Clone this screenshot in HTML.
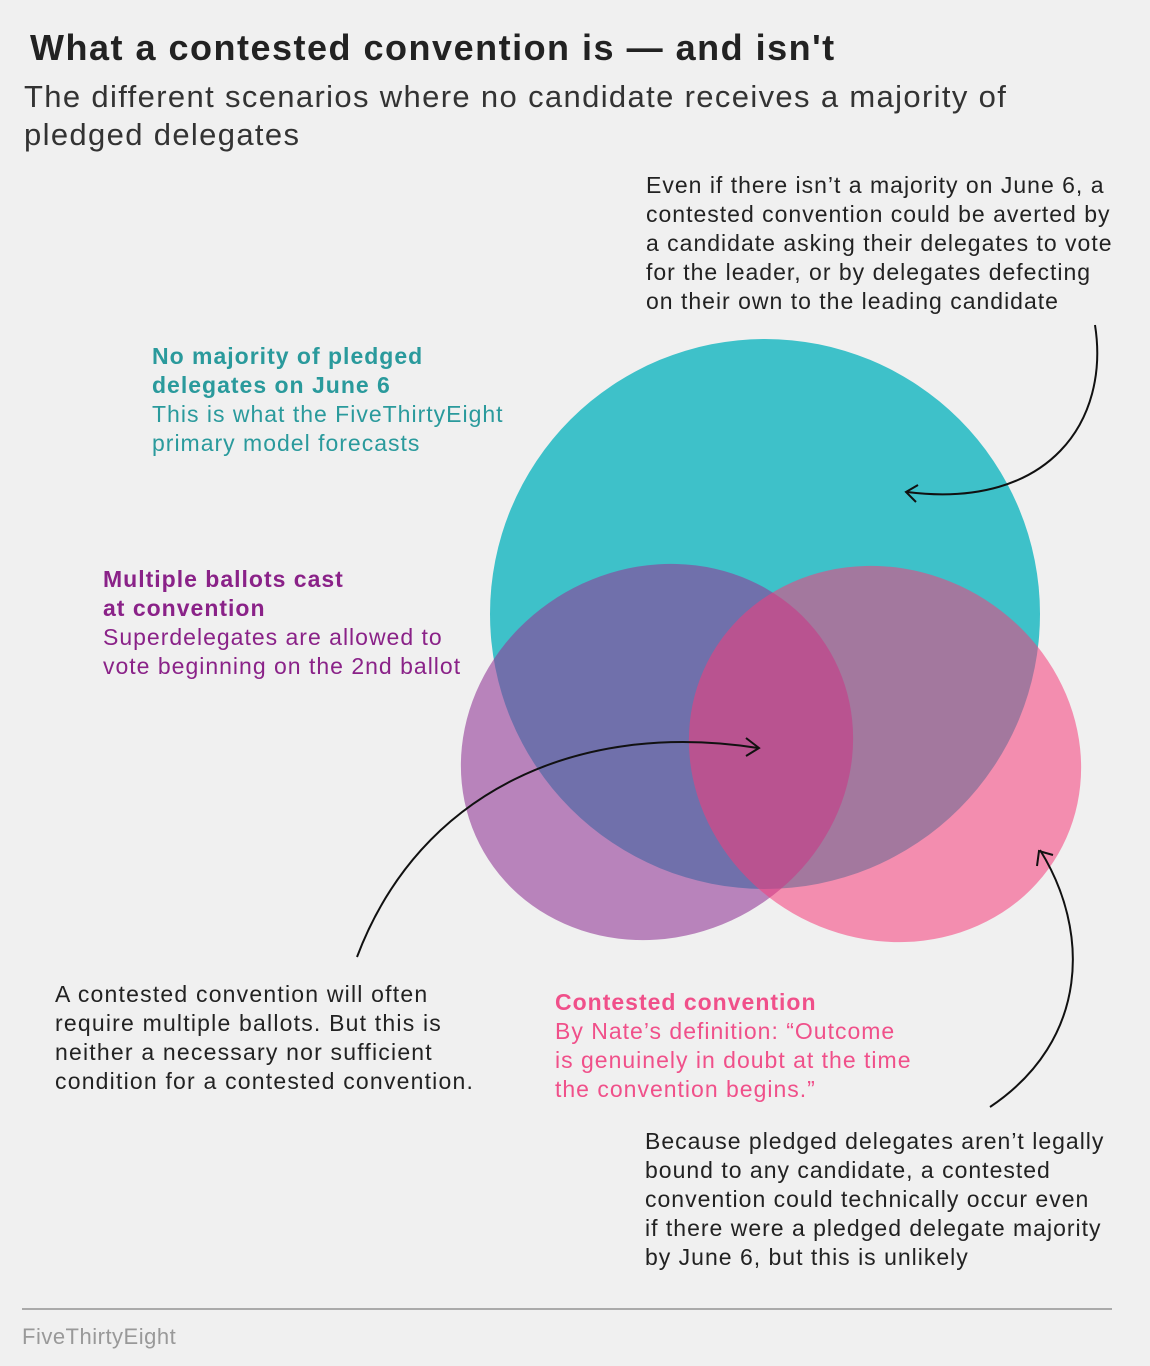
<!DOCTYPE html>
<html><head><meta charset="utf-8"><style>
body{margin:0;background:#f0f0f0;}
svg{display:block;font-family:"Liberation Sans","DejaVu Sans",sans-serif;}
</style></head><body>
<svg width="1150" height="1366" viewBox="0 0 1150 1366">
<rect width="1150" height="1366" fill="#f0f0f0"/>
<text x="30" y="60" font-size="36" font-weight="bold" fill="#222" letter-spacing="1.5">What a contested convention is — and isn't</text>
<text x="24" y="107" font-size="31" fill="#333" letter-spacing="1.35">The different scenarios where no candidate receives a majority of</text>
<text x="24" y="145" font-size="31" fill="#333" letter-spacing="1.35">pledged delegates</text>

<g>
<circle cx="765" cy="614" r="275" fill="#3ec1c9"/>
<ellipse cx="657" cy="752" rx="200" ry="184" transform="rotate(-30 657 752)" fill="#933a98" fill-opacity="0.6"/>
<ellipse cx="885" cy="754" rx="200" ry="184" transform="rotate(30 885 754)" fill="#f53c7a" fill-opacity="0.55"/>
</g>

<g font-size="23" fill="#222" letter-spacing="1">
<text x="646" y="193">Even if there isn’t a majority on June 6, a</text>
<text x="646" y="222">contested convention could be averted by</text>
<text x="646" y="251">a candidate asking their delegates to vote</text>
<text x="646" y="280">for the leader, or by delegates defecting</text>
<text x="646" y="309">on their own to the leading candidate</text>
</g>
<g font-size="23" fill="#2a9a9c" letter-spacing="1">
<text x="152" y="364" font-weight="bold">No majority of pledged</text>
<text x="152" y="393" font-weight="bold">delegates on June 6</text>
<text x="152" y="422">This is what the FiveThirtyEight</text>
<text x="152" y="451">primary model forecasts</text>
</g>
<g font-size="23" fill="#8a2288" letter-spacing="1">
<text x="103" y="587" font-weight="bold">Multiple ballots cast</text>
<text x="103" y="616" font-weight="bold">at convention</text>
<text x="103" y="645">Superdelegates are allowed to</text>
<text x="103" y="674">vote beginning on the 2nd ballot</text>
</g>
<g font-size="23" fill="#222" letter-spacing="1.2">
<text x="55" y="1002">A contested convention will often</text>
<text x="55" y="1031">require multiple ballots. But this is</text>
<text x="55" y="1060">neither a necessary nor sufficient</text>
<text x="55" y="1089">condition for a contested convention.</text>
</g>
<g font-size="23" fill="#f0508a" letter-spacing="1">
<text x="555" y="1010" font-weight="bold">Contested convention</text>
<text x="555" y="1039">By Nate’s definition: “Outcome</text>
<text x="555" y="1068">is genuinely in doubt at the time</text>
<text x="555" y="1097">the convention begins.”</text>
</g>
<g font-size="23" fill="#222" letter-spacing="1">
<text x="645" y="1149">Because pledged delegates aren’t legally</text>
<text x="645" y="1178">bound to any candidate, a contested</text>
<text x="645" y="1207">convention could technically occur even</text>
<text x="645" y="1236">if there were a pledged delegate majority</text>
<text x="645" y="1265">by June 6, but this is unlikely</text>
</g>

<g fill="none" stroke="#111" stroke-width="2">
<path d="M1095 325 C1110 420 1050 510 907 492"/>
<path d="M918 485 L906 492 L916 502"/>
<path d="M357 957 C420 790 580 720 758 748"/>
<path d="M746 738 L759 748 L746 756"/>
<path d="M990 1107 C1090 1040 1090 930 1040 850"/>
<path d="M1037 866 L1039 851 L1053 855"/>
</g>

<line x1="22" y1="1309" x2="1112" y2="1309" stroke="#aaa" stroke-width="2"/>
<text x="22" y="1344" font-size="22" fill="#999" letter-spacing="0.5">FiveThirtyEight</text>
</svg>
</body></html>
